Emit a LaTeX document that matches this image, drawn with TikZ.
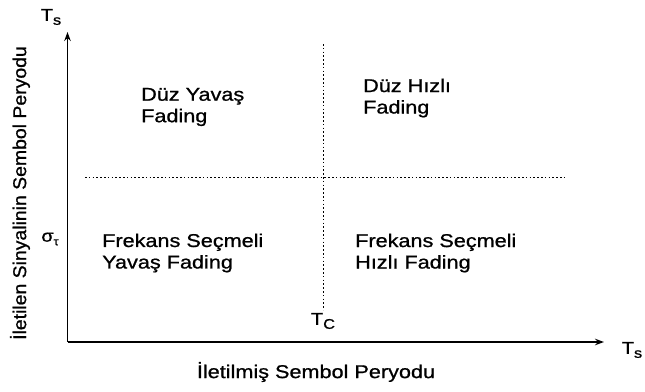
\documentclass[tikz,border=0pt]{standalone}
\usepackage{fontspec}
\setmainfont{Liberation Sans}[FakeStretch=1.17,FakeBold=0.9]
\newfontfamily\sidefont{Liberation Sans}[FakeStretch=1.05,FakeBold=0.9]
\usetikzlibrary{arrows.meta}
\begin{document}
\begin{tikzpicture}[x=1pt,y=-1pt,
  axis/.style={line width=1.6pt,-{Stealth[length=9pt,width=6.5pt]}},
  grid/.style={line width=1pt,dash pattern=on 1.6pt off 2.2pt},
  region/.style={font=\fontsize{18.5}{21.5}\selectfont,align=left,anchor=west,inner sep=0pt},
  tick/.style={font=\fontsize{17}{18}\selectfont,inner sep=0pt},
  title/.style={font=\fontsize{18.5}{20}\selectfont,inner sep=0pt}]
\useasboundingbox (0,0) rectangle (645,391);
% axes
\coordinate (o) at (67.5,342);
\coordinate (ytip) at (67.5,32);
\coordinate (xtip) at (604,342);
\draw[axis] (o) -- (ytip);
\draw[axis] (o) -- (xtip);
% dotted boundaries
\coordinate (h1) at (85,177);
\coordinate (h2) at (566,177);
\coordinate (v1) at (323,44);
\coordinate (v2) at (323,310);
\draw[grid] (h1) -- (h2);
\draw[grid] (v1) -- (v2);
% axis symbols
\node[tick] (tsy) at (51,17) {T\raisebox{-0.45ex}{\fontsize{14}{15}\selectfont s}};
\node[tick] (tsx) at (632,350) {T\raisebox{-0.45ex}{\fontsize{14}{15}\selectfont s}};
\node[tick] (tc) at (323,321) {T\raisebox{-0.45ex}{\fontsize{14}{15}\selectfont C}};
\node[tick] (sig) at (50,239) {σ\raisebox{-0.4ex}{\fontsize{11}{12}\selectfont τ}};
% regions
\node[region] (dy) at (141,107) {Düz Yavaş\\Fading};
\node[region] (dh) at (363,98) {Düz Hızlı\\Fading};
\node[region] (fy) at (102,253) {Frekans Seçmeli\\Yavaş Fading};
\node[region] (fh) at (355,253) {Frekans Seçmeli\\Hızlı Fading};
% axis titles
\node[title] (xt) at (316,372) {İletilmiş Sembol Peryodu};
\node[title,rotate=90] (yt) at (20,193) {\sidefont İletilen Sinyalinin Sembol Peryodu};
\end{tikzpicture}
\end{document}
